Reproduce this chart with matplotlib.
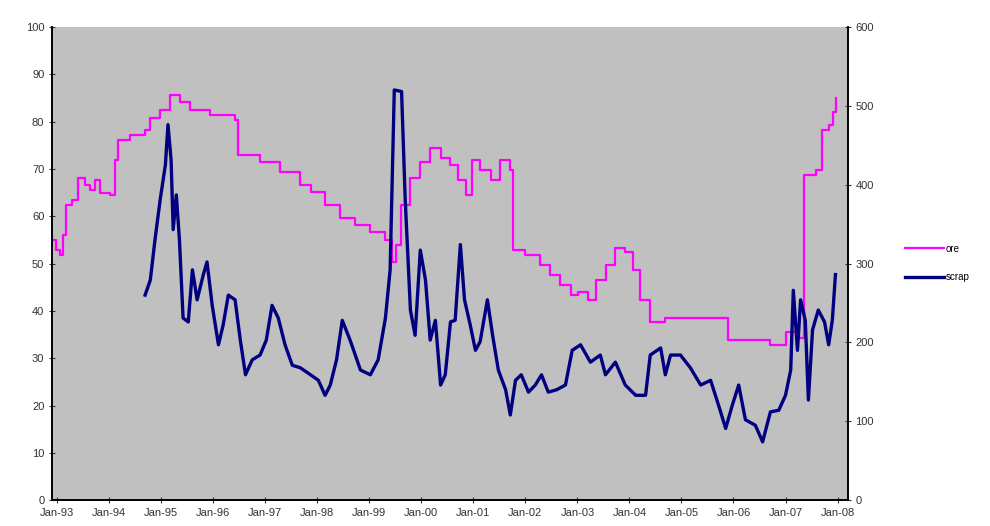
import numpy as np
import matplotlib.pyplot as plt

plt.rcParams['font.family'] = ['Liberation Sans', 'DejaVu Sans']

# ore price (left axis)
ore_t = [1992.90, 1992.98, 1993.06, 1993.12, 1993.17, 1993.29, 1993.40, 1993.54, 1993.63, 1993.73,
         1993.83, 1994.02, 1994.12, 1994.17, 1994.40, 1994.69, 1994.79, 1994.98, 1995.17, 1995.37,
         1995.56, 1995.94, 1996.42, 1996.48, 1996.90, 1997.29, 1997.67, 1997.87, 1998.15, 1998.44,
         1998.73, 1999.02, 1999.31, 1999.44, 1999.52, 1999.60, 1999.79, 1999.98, 2000.17, 2000.37,
         2000.56, 2000.71, 2000.85, 2000.98, 2001.13, 2001.33, 2001.52, 2001.71, 2001.77, 2002.00,
         2002.29, 2002.48, 2002.67, 2002.87, 2003.02, 2003.21, 2003.35, 2003.54, 2003.73, 2003.92,
         2004.06, 2004.21, 2004.40, 2004.69, 2005.17, 2005.75, 2005.90, 2006.33, 2006.71, 2007.00,
         2007.25, 2007.35, 2007.58, 2007.71, 2007.83, 2007.92, 2007.98]
ore = [55.0, 52.9, 51.8, 56.0, 62.4, 63.4, 68.1, 66.6, 65.5, 67.7,
       64.9, 64.5, 71.9, 76.1, 77.2, 78.2, 80.8, 82.5, 85.6, 84.1,
       82.5, 81.4, 80.3, 72.9, 71.5, 69.3, 66.6, 65.1, 62.4, 59.6,
       58.1, 56.7, 55.0, 50.3, 53.9, 62.4, 68.1, 71.5, 74.4, 72.3,
       70.8, 67.7, 64.5, 71.9, 69.8, 67.7, 71.9, 69.8, 52.9, 51.8,
       49.7, 47.6, 45.5, 43.3, 44.0, 42.3, 46.5, 49.7, 53.3, 52.4,
       48.6, 42.3, 37.6, 38.5, 38.5, 38.5, 33.8, 33.8, 32.8, 35.5,
       34.2, 68.7, 69.8, 78.2, 79.3, 82.0, 85.0]

# scrap price (right axis)
scrap_t = [1994.69, 1994.79, 1994.88, 1994.98, 1995.08, 1995.13, 1995.19, 1995.23, 1995.29, 1995.35,
           1995.42, 1995.52, 1995.60, 1995.69, 1995.81, 1995.88, 1995.98, 1996.10, 1996.19, 1996.29,
           1996.42, 1996.52, 1996.62, 1996.75, 1996.90, 1997.02, 1997.13, 1997.25, 1997.38, 1997.52,
           1997.67, 1997.87, 1998.02, 1998.15, 1998.25, 1998.37, 1998.48, 1998.63, 1998.83, 1999.02,
           1999.17, 1999.31, 1999.40, 1999.48, 1999.62, 1999.69, 1999.79, 1999.88, 1999.98, 2000.08,
           2000.17, 2000.27, 2000.37, 2000.46, 2000.56, 2000.65, 2000.75, 2000.83, 2000.94, 2001.04,
           2001.13, 2001.27, 2001.37, 2001.48, 2001.62, 2001.71, 2001.81, 2001.92, 2002.06, 2002.19,
           2002.31, 2002.44, 2002.60, 2002.77, 2002.90, 2003.06, 2003.25, 2003.44, 2003.54, 2003.73,
           2003.92, 2004.12, 2004.31, 2004.40, 2004.60, 2004.69, 2004.79, 2004.98, 2005.17, 2005.37,
           2005.56, 2005.71, 2005.85, 2005.98, 2006.10, 2006.23, 2006.42, 2006.56, 2006.71, 2006.87,
           2007.00, 2007.10, 2007.15, 2007.23, 2007.29, 2007.38, 2007.44, 2007.52, 2007.63, 2007.75,
           2007.83, 2007.90, 2007.96]
scrap = [260, 279, 330, 381, 425, 476, 431, 343, 387, 330,
         231, 226, 292, 254, 286, 302, 247, 197, 222, 260,
         254, 203, 159, 178, 184, 203, 247, 231, 197, 171,
         168, 159, 152, 133, 146, 178, 228, 203, 165, 159,
         178, 231, 292, 520, 518, 381, 241, 209, 317, 279,
         203, 228, 146, 159, 226, 228, 324, 254, 222, 190,
         201, 254, 209, 165, 140, 108, 152, 159, 137, 146,
         159, 137, 140, 146, 190, 197, 175, 184, 159, 175,
         146, 133, 133, 184, 193, 159, 184, 184, 168, 146,
         152, 121, 91, 121, 146, 102, 95, 74, 112, 114,
         133, 165, 266, 190, 254, 228, 127, 216, 241, 226,
         197, 228, 286]

tick_years = np.arange(1993, 2009)
tick_labels = ['Jan-%02d' % (y % 100) for y in tick_years]

fig = plt.figure(figsize=(9.9, 5.26), dpi=100)
ax = fig.add_axes([0.0525, 0.049, 0.804, 0.9])
ax.set_facecolor('#c0c0c0')

l1, = ax.plot(ore_t, ore, drawstyle='steps-post', color='#ff00ff', linewidth=1.6, label='ore')
ax.set_ylim(0, 100)
ax.set_yticks(np.arange(0, 101, 10))
ax.set_xlim(1992.9, 2008.2)
ax.set_xticks(tick_years)
ax.set_xticklabels(tick_labels, fontsize=6)

ax2 = ax.twinx()
l2, = ax2.plot(scrap_t, scrap, color='#000080', linewidth=2.4, label='scrap')
ax2.set_ylim(0, 600)
ax2.set_yticks(np.arange(0, 601, 100))

for a in (ax, ax2):
    a.tick_params(labelsize=8, colors='#333333', length=4, direction='inout')
    for s in a.spines.values():
        s.set_color('black')
        s.set_linewidth(1.2)
ax.spines['top'].set_visible(False)
ax2.spines['top'].set_visible(False)

fig.legend(handles=[l1, l2], loc='center left', bbox_to_anchor=(0.905, 0.5),
           frameon=False, fontsize=7, handlelength=4.0, handletextpad=0.2,
           labelspacing=1.9)

plt.savefig('out.png', dpi=100)
